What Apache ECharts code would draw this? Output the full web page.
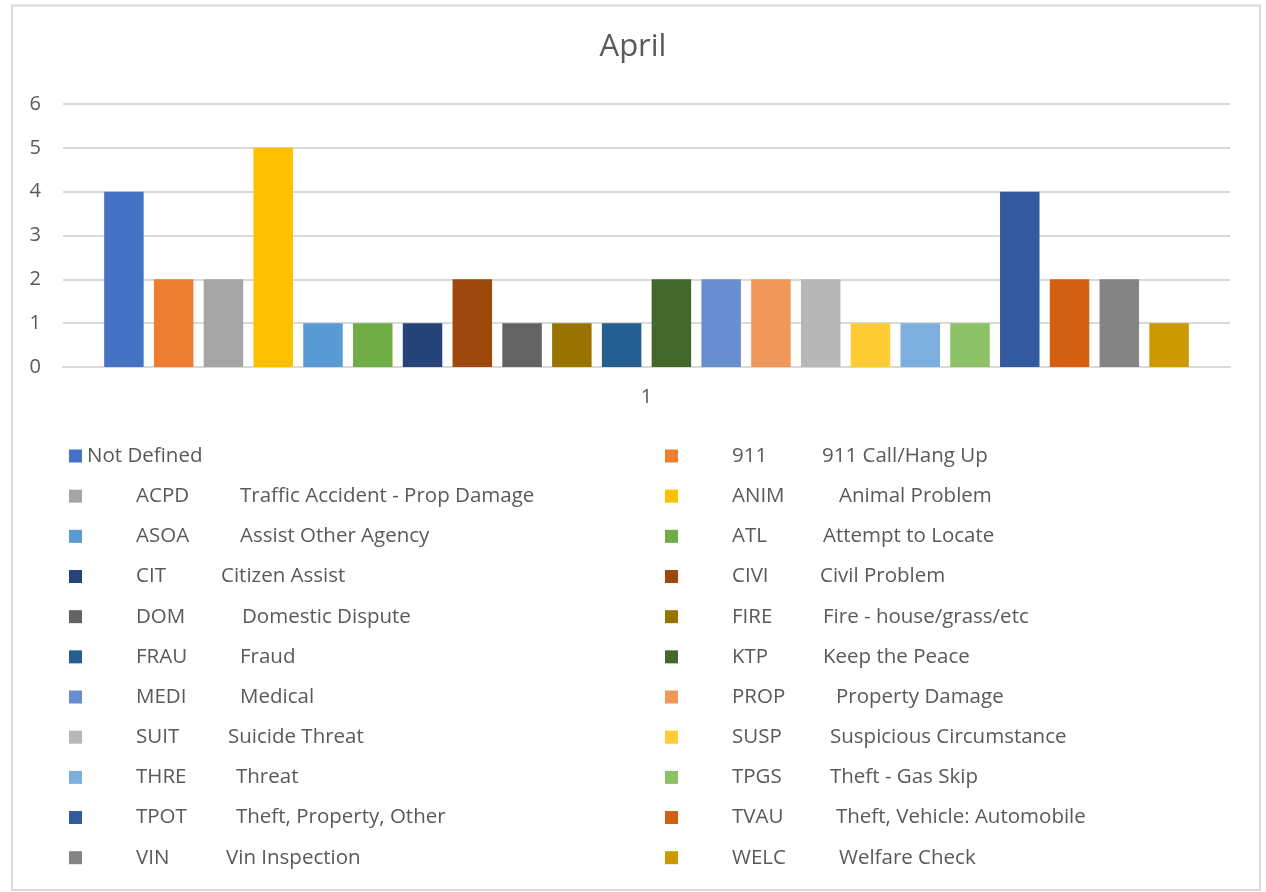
<!DOCTYPE html>
<html>
<head>
<meta charset="utf-8">
<script src="https://cdn.jsdelivr.net/npm/echarts@6/dist/echarts.min.js"></script>
<style>
html,body{margin:0;padding:0;background:#fff;}
#chart{width:1266px;height:892px;}
</style>
</head>
<body>
<div id="chart"></div>
<script>
// ---- data ----
const categories = ['1'];
const codes = ['', '911', 'ACPD', 'ANIM', 'ASOA', 'ATL', 'CIT', 'CIVI', 'DOM', 'FIRE', 'FRAU', 'KTP',
  'MEDI', 'PROP', 'SUIT', 'SUSP', 'THRE', 'TPGS', 'TPOT', 'TVAU', 'VIN', 'WELC'];
const descriptions = ['Not Defined', '911 Call/Hang Up', 'Traffic Accident - Prop Damage', 'Animal Problem',
  'Assist Other Agency', 'Attempt to Locate', 'Citizen Assist', 'Civil Problem', 'Domestic Dispute',
  'Fire - house/grass/etc', 'Fraud', 'Keep the Peace', 'Medical', 'Property Damage', 'Suicide Threat',
  'Suspicious Circumstance', 'Threat', 'Theft - Gas Skip', 'Theft, Property, Other',
  'Theft, Vehicle: Automobile', 'Vin Inspection', 'Welfare Check'];
const counts = [4, 2, 2, 5, 1, 1, 1, 2, 1, 1, 1, 2, 2, 2, 2, 1, 1, 1, 4, 2, 2, 1];
const yTicks = [0, 1, 2, 3, 4, 5, 6];

// ---- styles ----
const colors = ['#4472C4', '#ED7D31', '#A5A5A5', '#FFC000', '#5B9BD5', '#70AD47', '#264478', '#9E480E',
  '#636363', '#997300', '#255E91', '#43682B', '#698ED0', '#F1975A', '#B7B7B7', '#FFCD33', '#7CAFDD',
  '#8CC168', '#335AA1', '#D26012', '#848484', '#CC9A00'];
// width of the code column (px) for each legend entry (tab-like spacing of original)
const codeColWidth = [0, 90, 104, 107, 104, 91, 85, 88, 106, 91, 104, 91, 104, 104, 92, 98, 100, 98, 100, 104, 90, 107];
const textColor = '#595959';
const FONT = '"Open Sans", "Noto Sans", sans-serif';
const LEG_FS = 20.5;
const LEG_LH = 22;

const names = codes.map((c, i) => c ? c + ' ' + descriptions[i] : descriptions[i]);
const nameIndex = {};
names.forEach((n, i) => { nameIndex[n] = i; });

const rich = {
  n: { fontSize: LEG_FS, color: textColor, fontFamily: FONT, lineHeight: LEG_LH },
  g: { width: 49, fontSize: LEG_FS, lineHeight: LEG_LH },
  d: { fontSize: LEG_FS, color: textColor, fontFamily: FONT, lineHeight: LEG_LH }
};
codeColWidth.forEach((w, i) => {
  rich['c' + i] = { width: w, fontSize: LEG_FS, color: textColor, fontFamily: FONT, lineHeight: LEG_LH };
});

function legendFormatter(name) {
  const i = nameIndex[name];
  if (!codes[i]) return '{n|' + descriptions[i] + '}';
  return '{g|\u00a0}{c' + i + '|' + codes[i] + '}{d|' + descriptions[i] + '}';
}

function makeLegend(left, filterFn) {
  return {
    orient: 'vertical',
    left: left,
    top: 445,
    padding: 0,
    itemWidth: 13,
    itemHeight: 13,
    itemGap: 18.17,
    icon: 'rect',
    selectedMode: false,
    data: names.filter((n, i) => filterFn(i)),
    formatter: legendFormatter,
    textStyle: { color: textColor, fontFamily: FONT, fontSize: LEG_FS, lineHeight: LEG_LH, rich: rich }
  };
}

const chart = echarts.init(document.getElementById('chart'), null, { renderer: 'canvas' });
chart.setOption({
  animation: false,
  backgroundColor: '#ffffff',
  color: colors,
  graphic: [{
    type: 'rect',
    shape: { x: 12, y: 5.5, width: 1248, height: 884.5 },
    style: { fill: 'none', stroke: '#d9d9d9', lineWidth: 2 },
    silent: true
  }],
  title: {
    text: 'April',
    left: 'center',
    top: 27,
    textStyle: { color: textColor, fontFamily: FONT, fontSize: 31, fontWeight: 'normal' }
  },
  legend: [
    makeLegend(69, i => i % 2 === 0),
    makeLegend(665, i => i % 2 === 1)
  ],
  grid: { left: 63, right: 36, top: 104, bottom: 525, containLabel: false },
  xAxis: {
    type: 'category',
    data: categories,
    axisLine: { show: true, lineStyle: { color: '#d9d9d9', width: 2 } },
    axisTick: { show: false },
    axisLabel: { color: textColor, fontFamily: FONT, fontSize: 20, margin: 20 }
  },
  yAxis: {
    type: 'value',
    min: yTicks[0],
    max: yTicks[yTicks.length - 1],
    interval: 1,
    axisLine: { show: false },
    axisTick: { show: false },
    splitLine: { lineStyle: { color: '#d9d9d9', width: 2 } },
    axisLabel: { color: textColor, fontFamily: FONT, fontSize: 20, margin: 22 }
  },
  series: names.map((n, i) => ({
    name: n,
    type: 'bar',
    data: [counts[i]],
    barWidth: 39.5,
    barGap: '26%',
    itemStyle: { color: colors[i] }
  }))
});
</script>
</body>
</html>
